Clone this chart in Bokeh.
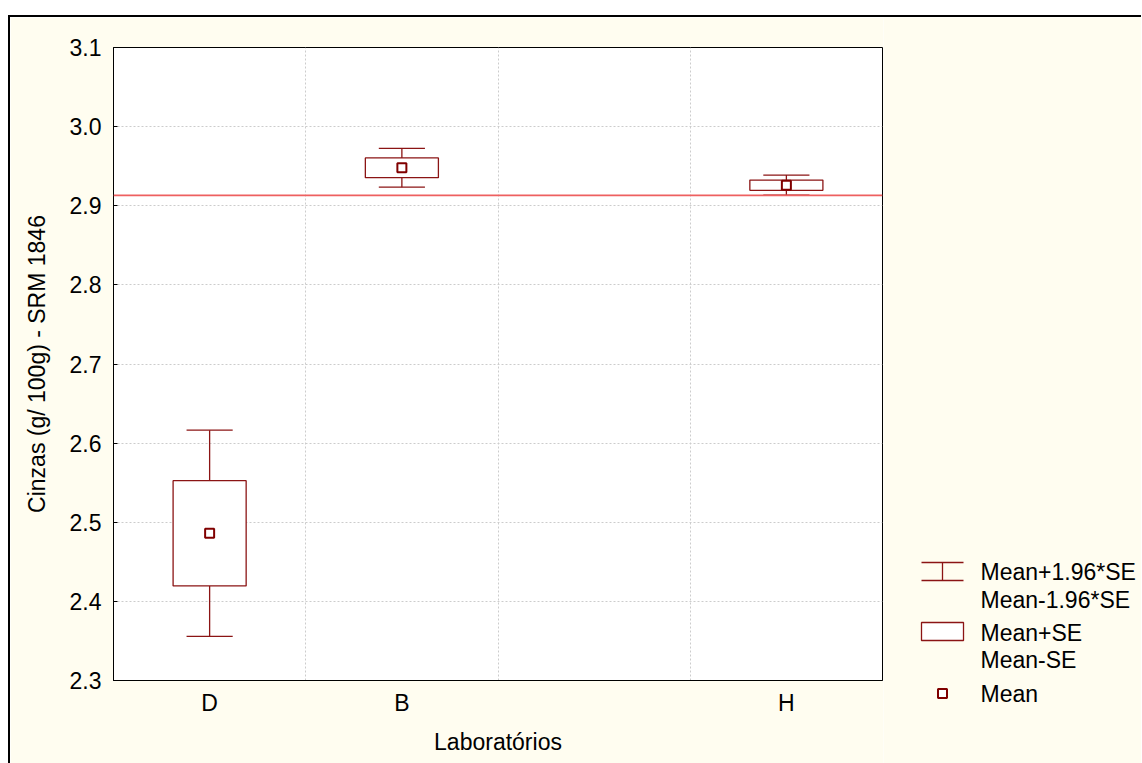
from bokeh.plotting import figure
from bokeh.models import Range1d, FixedTicker, Span, ColumnDataSource, PrintfTickFormatter
from bokeh.layouts import row
from bokeh.embed import file_html
from bokeh.resources import INLINE
from bokeh.core.properties import value

# Category slots along the x axis (one slot is left empty)
slots = ["D", "B", "", "H"]

# Laboratory results: mean and standard error of ash content
labs = ["D", "B", "H"]
means = [2.486, 2.948, 2.926]
ses = [0.0665, 0.0125, 0.0065]
z_factor = 1.96

# Certified reference value for SRM 1846
ref_value = 2.913

y_ticks = [2.3, 2.4, 2.5, 2.6, 2.7, 2.8, 2.9, 3.0, 3.1]

FONT = "Liberation Sans"
FS = "23px"
BG = "#FFFDF0"
DARK_RED = "#8B1414"
MEAN_RED = "#800000"
GRID = "#CCCCCC"

box_w = 0.38
cap_w = 0.24

xs = [slots.index(l) + 0.5 for l in labs]
src = ColumnDataSource(dict(
    x=xs,
    mean=means,
    top=[m + s for m, s in zip(means, ses)],
    bottom=[m - s for m, s in zip(means, ses)],
    hi=[m + z_factor * s for m, s in zip(means, ses)],
    lo=[m - z_factor * s for m, s in zip(means, ses)],
    left=[x - box_w / 2 for x in xs],
    right=[x + box_w / 2 for x in xs],
    cl=[x - cap_w / 2 for x in xs],
    cr=[x + cap_w / 2 for x in xs],
))

p = figure(width=873, height=746,
           x_range=Range1d(0, len(slots)), y_range=Range1d(y_ticks[0], y_ticks[-1]),
           output_backend="svg", toolbar_location=None,
           min_border_left=103, min_border_top=30, min_border_right=1, min_border_bottom=83,
           background_fill_color="white", border_fill_color=BG)
p.outline_line_color = "black"
p.outline_line_width = 1

# x axis: labels at slot centres, tick marks at slot boundaries
xt = FixedTicker(ticks=[i + 0.5 for i in range(len(slots))],
                 minor_ticks=list(range(len(slots) + 1)))
p.xaxis.ticker = xt
p.xaxis.major_label_overrides = {i + 0.5: s for i, s in enumerate(slots)}
p.xaxis.major_tick_in = 0
p.xaxis.major_tick_out = 0
p.xaxis.minor_tick_in = 5
p.xaxis.minor_tick_out = 0
p.xaxis.axis_label = "Laboratórios"
p.xaxis.major_label_standoff = 9
p.xaxis.axis_label_standoff = 10

p.yaxis.ticker = FixedTicker(ticks=y_ticks)
p.yaxis.formatter = PrintfTickFormatter(format="%.1f")
p.yaxis.major_tick_in = 4
p.yaxis.major_tick_out = 0
p.yaxis.axis_label = "Cinzas (g/ 100g) - SRM 1846"
p.yaxis.major_label_standoff = 12
p.yaxis.axis_label_standoff = 17

for ax in (p.xaxis, p.yaxis):
    ax.axis_line_color = "black"
    ax.major_tick_line_color = "black"
    ax.minor_tick_line_color = "black" if ax is p.xaxis else None
    ax.major_label_text_font = FONT
    ax.major_label_text_font_size = FS
    ax.major_label_text_color = "black"
    ax.axis_label_text_font = FONT
    ax.axis_label_text_font_size = FS
    ax.axis_label_text_font_style = "normal"
    ax.axis_label_text_color = "black"

p.xgrid.ticker = FixedTicker(ticks=list(range(1, len(slots))))
for g in (p.xgrid, p.ygrid):
    g.grid_line_color = GRID
    g.grid_line_dash = "2 2"
    g.grid_line_width = 1

# whiskers (mean +/- 1.96*SE)
p.segment(x0="x", y0="top", x1="x", y1="hi", source=src, line_color=DARK_RED, line_width=1.3)
p.segment(x0="x", y0="bottom", x1="x", y1="lo", source=src, line_color=DARK_RED, line_width=1.3)
p.segment(x0="cl", y0="hi", x1="cr", y1="hi", source=src, line_color=DARK_RED, line_width=1.3)
p.segment(x0="cl", y0="lo", x1="cr", y1="lo", source=src, line_color=DARK_RED, line_width=1.3)
# boxes (mean +/- SE)
p.quad(left="left", right="right", top="top", bottom="bottom", source=src,
       fill_color="white", line_color=DARK_RED, line_width=1.3)
# mean markers
p.scatter(x="x", y="mean", source=src, marker="square", size=9,
          fill_color="white", line_color=MEAN_RED, line_width=2)

p.add_layout(Span(location=ref_value, dimension="width",
                  line_color="#EE6060", line_width=1.8))

# Legend panel (pixel coordinates, y growing downwards)
LW, LH = 258, 746
leg = figure(width=LW, height=LH, x_range=Range1d(0, LW), y_range=Range1d(LH, 0),
             output_backend="svg", toolbar_location=None,
             x_axis_type=None, y_axis_type=None, min_border=0,
             background_fill_color=BG, border_fill_color=BG)
leg.frame_align = False
leg.outline_line_color = None
leg.grid.visible = False

leg.segment(x0=[38, 38, 59], y0=[545, 563, 545], x1=[80, 80, 59], y1=[545, 563, 563],
            line_color=DARK_RED, line_width=1.3)
leg.quad(left=[38], right=[80], top=[605], bottom=[623],
         fill_color="white", line_color=DARK_RED, line_width=1.3)
leg.scatter(x=[59], y=[676], marker="square", size=9,
            fill_color="white", line_color=MEAN_RED, line_width=2)
leg.text(x=[97, 97, 97, 97, 97], y=[554, 582, 615, 642, 676],
         text=["Mean+1.96*SE", "Mean-1.96*SE", "Mean+SE", "Mean-SE", "Mean"],
         text_font=value(FONT), text_font_size=FS, text_color="black",
         text_baseline="middle", text_align="left")

page = row(p, leg, margin=(15, 0, 0, 8),
           styles={"border-top": "2px solid black", "border-left": "2px solid black"})

open("out.html", "w").write(file_html(page, INLINE))
